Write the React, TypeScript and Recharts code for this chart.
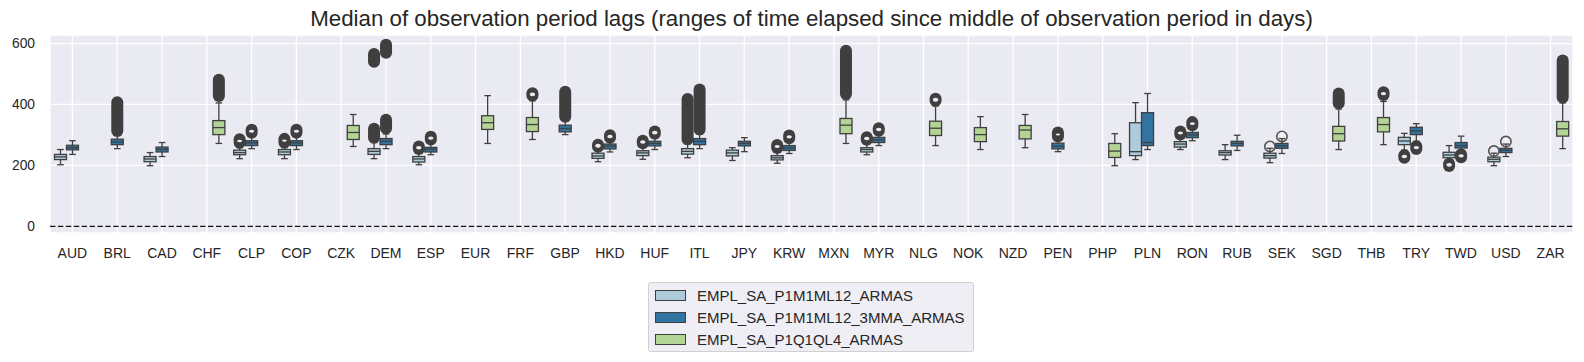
import { ComposedChart, Bar, XAxis, YAxis, CartesianGrid, ReferenceLine } from "recharts"

// stat tuple: [whiskerLow, q1, median, q3, whiskerHigh, ...flierRanges [lo, hi]]
type Stat = any[] | null

let currencies = [
  "AUD", "BRL", "CAD", "CHF", "CLP", "COP", "CZK", "DEM", "ESP", "EUR", "FRF", "GBP",
  "HKD", "HUF", "ITL", "JPY", "KRW", "MXN", "MYR", "NLG", "NOK", "NZD", "PEN", "PHP",
  "PLN", "RON", "RUB", "SEK", "SGD", "THB", "TRY", "TWD", "USD", "ZAR",
]

let seriesNames = ["EMPL_SA_P1M1ML12_ARMAS", "EMPL_SA_P1M1ML12_3MMA_ARMAS", "EMPL_SA_P1Q1QL4_ARMAS"]
let seriesColors = ["#aecbdb", "#3274a1", "#b3d495"]

let monthlyStats: Stat[] = [
  [202, 219, 228, 236, 252], null, [199, 212, 221, 229, 242], null,
  [222, 235, 242, 250, 258, [274, 286]], [222, 235, 244, 252, 258, [275, 287]], null,
  [222, 236, 246, 255, 275, [291, 320], [540, 566]], [202, 211, 221, 229, 245, [254, 262]],
  null, null, null,
  [212, 223, 231, 240, 250, [261, 268]], [220, 232, 241, 248, 262, [273, 281]],
  [225, 237, 246, 255, 270, [286, 418]], [216, 231, 241, 250, 258],
  [207, 218, 225, 232, 250, [257, 267]], null, [235, 244, 252, 258, 270, [284, 292]],
  null, null, null, null, null,
  [219, 232, 245, 340, 406], [252, 260, 270, 278, 290, [301, 311]], [219, 234, 242, 248, 268],
  [209, 224, 232, 240, 256, [262, 262]], null, null,
  [250, 268, 280, 292, 305, [225, 233]], [219, 225, 234, 243, 265, [198, 205]],
  [199, 212, 220, 227, 240, [247, 247]], null,
]

let monthly3mmaStats: Stat[] = [
  [236, 251, 258, 266, 281], [255, 268, 277, 286, 298, [313, 407]], [229, 244, 253, 260, 275], null,
  [255, 265, 274, 281, 296, [307, 317]], [252, 265, 274, 281, 296, [307, 317]], null,
  [255, 268, 279, 288, 303, [322, 350], [570, 596]], [235, 244, 253, 259, 272, [285, 294]],
  null, null, [301, 310, 321, 332, 345, [360, 442]],
  [244, 254, 263, 270, 280, [291, 299]], [252, 264, 272, 279, 292, [304, 311]],
  [255, 268, 279, 288, 303, [318, 449]], [245, 264, 272, 279, 291],
  [239, 249, 257, 265, 277, [289, 298]], null, [265, 275, 284, 292, 300, [314, 322]],
  null, null, null, [245, 254, 263, 273, 283, [295, 308]], null,
  [252, 265, 275, 373, 436], [281, 291, 300, 308, 322, [332, 342]], [249, 264, 272, 279, 299],
  [239, 256, 264, 272, 288, [295, 295]], null, null,
  [279, 301, 313, 325, 337, [254, 263]], [250, 257, 265, 275, 296, [227, 236]],
  [229, 242, 250, 256, 270, [278, 278]], null,
]

let quarterlyStats: Stat[] = [
  null, null, null, [272, 301, 324, 347, 405, [428, 481]],
  null, null, [262, 285, 308, 331, 367],
  null, null, [272, 318, 340, 363, 429], [285, 311, 334, 357, 412, [429, 437]], null,
  null, null, null, null, null,
  [272, 304, 332, 354, 415, [434, 576]], null,
  [265, 298, 322, 345, 395, [412, 419]], [252, 278, 301, 324, 360], [258, 287, 316, 331, 367],
  null, [199, 226, 247, 272, 304],
  null, null, null, null,
  [252, 280, 304, 328, 385, [404, 436]], [268, 310, 334, 357, 410, [431, 440]],
  null, null, null, [255, 296, 320, 344, 405, [423, 544]],
]

let yTicks = [0, 200, 400, 600]

let rows = currencies.map((name, i) => ({ name, a: monthlyStats[i], b: monthly3mmaStats[i], c: quarterlyStats[i] }))

let lineColor = "#3f3f3f"
let bg = "#EAEAF2"
let font = "'Liberation Sans', Arial, sans-serif"

let extent = (st: Stat) => {
  if (!st) return null
  let vals: number[] = [st[0], st[4]]
  st.slice(5).forEach((f: number[]) => vals.push(f[0], f[1]))
  return [Math.min(...vals), Math.max(...vals)]
}

let BoxShape = (props: any) => {
  let { x, y, width, height, payload, index, k, color } = props
  let st = payload?.[k]
  if (!st || !isFinite(y) || !isFinite(height)) return null
  let [lo, hi] = extent(st) as number[]
  let top = Math.min(y, y + height)
  let h = Math.abs(height)
  let py = (v: number) => top + ((hi - v) / (hi - lo)) * h
  let cx = x + width / 2
  let capW = width * 0.55
  let [wl, q1, md, q3, wh] = st
  let fliers: number[][] = st.slice(5)
  let sw = 1.3
  let R = 6
  return (
    <g>
      {fliers.map((f, j) => {
        let yt = py(f[1])
        let yb = py(f[0])
        let id = `fl-${k}-${index}-${j}`
        if (f[0] === f[1]) {
          // a single outlier: open ring
          return <circle key={j} cx={cx} cy={yt} r={R - 0.8} fill="none" stroke="#555" strokeWidth={1.6} />
        }
        // many overlapping open circles merge into a dark capsule
        let ri = 3
        return (
          <g key={j}>
            <rect x={cx - R} y={yt - R} width={2 * R} height={yb - yt + 2 * R} rx={R} ry={R} fill={lineColor} />
            {yb - yt < 2 * ri && (
              <>
                <clipPath id={id}>
                  <circle cx={cx} cy={yt} r={ri} />
                </clipPath>
                <circle cx={cx} cy={yb} r={ri} fill={bg} clipPath={`url(#${id})`} />
              </>
            )}
          </g>
        )
      })}
      <line x1={cx} x2={cx} y1={py(q3)} y2={py(wh)} stroke={lineColor} strokeWidth={sw} />
      <line x1={cx} x2={cx} y1={py(q1)} y2={py(wl)} stroke={lineColor} strokeWidth={sw} />
      <line x1={cx - capW / 2} x2={cx + capW / 2} y1={py(wh)} y2={py(wh)} stroke={lineColor} strokeWidth={sw} />
      <line x1={cx - capW / 2} x2={cx + capW / 2} y1={py(wl)} y2={py(wl)} stroke={lineColor} strokeWidth={sw} />
      <rect x={x} y={py(q3)} width={width} height={py(q1) - py(q3)} fill={color} stroke={lineColor} strokeWidth={sw} />
      <line x1={x} x2={x + width} y1={py(md)} y2={py(md)} stroke={lineColor} strokeWidth={sw} />
    </g>
  )
}

let keys = ["a", "b", "c"]

export default function App() {
  return (
    <div style={{ position: "absolute", left: 0, top: 0, width: 1584, height: 362, background: "#fff", fontFamily: font }}>
      <div
        style={{
          position: "absolute", left: 50, width: 1523, top: 8, textAlign: "center", lineHeight: 1,
          fontSize: 22.3, color: "#262626", whiteSpace: "nowrap",
        }}
      >
        Median of observation period lags (ranges of time elapsed since middle of observation period in days)
      </div>
      <ComposedChart
        width={1584}
        height={362}
        data={rows}
        margin={{ top: 35, right: 11, bottom: 0, left: 0 }}
        barGap={0}
        barCategoryGap="10%"
      >
        <CartesianGrid stroke="#fff" strokeWidth={1.3} fill={bg} fillOpacity={1} />
        <XAxis
          dataKey="name"
          height={129}
          interval={0}
          axisLine={false}
          tickLine={false}
          tickSize={0}
          tickMargin={15}
          tick={{ fontSize: 14, fill: "#262626", fontFamily: font }}
        />
        <YAxis
          width={50}
          domain={[-22, 628]}
          ticks={yTicks}
          axisLine={false}
          tickLine={false}
          tickSize={0}
          tickMargin={15}
          tick={{ fontSize: 13.8, fill: "#262626", fontFamily: font }}
        />
        <ReferenceLine y={0} stroke="#111" strokeWidth={1.3} strokeDasharray="5.5 2.4" />
        {keys.map((k, i) => (
          <Bar
            key={k}
            dataKey={(r: any) => extent(r[k])}
            isAnimationActive={false}
            shape={(p: any) => <BoxShape {...p} k={k} color={seriesColors[i]} />}
          />
        ))}
      </ComposedChart>
      <div
        style={{
          position: "absolute", left: 648, top: 282, width: 324, height: 68,
          background: "#EEEEF4", border: "1px solid #d0d0d0", borderRadius: 3,
        }}
      >
        {seriesNames.map((n, i) => (
          <div key={n} style={{ position: "absolute", left: 6, top: 6 + i * 22, height: 12, display: "flex", alignItems: "center" }}>
            <span style={{ width: 31, height: 11, background: seriesColors[i], border: `1px solid ${lineColor}`, boxSizing: "border-box", display: "inline-block" }} />
            <span style={{ marginLeft: 11, fontSize: 15, color: "#262626", whiteSpace: "nowrap" }}>{n}</span>
          </div>
        ))}
      </div>
    </div>
  )
}
